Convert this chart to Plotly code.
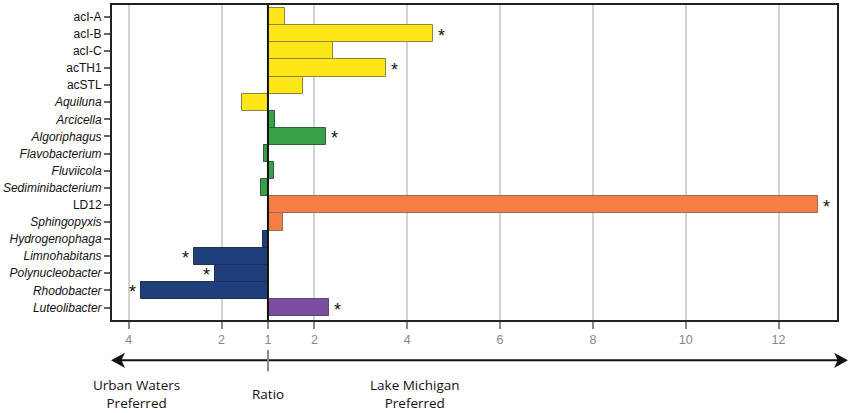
import plotly.graph_objects as go

# taxa, top to bottom
taxa = ["acI-A", "acI-B", "acI-C", "acTH1", "acSTL", "Aquiluna", "Arcicella",
        "Algoriphagus", "Flavobacterium", "Fluviicola", "Sediminibacterium",
        "LD12", "Sphingopyxis", "Hydrogenophaga", "Limnohabitans",
        "Polynucleobacter", "Rhodobacter", "Luteolibacter"]
italic = [False, False, False, False, False, True, True, True, True, True, True,
          False, True, True, True, True, True, True]
groups = ["acI", "acI", "acI", "acI", "acI", "acI", "bact", "bact", "bact",
          "bact", "bact", "alpha", "alpha", "beta", "beta", "beta", "beta", "verr"]
# signed (ratio - 1): positive = Lake Michigan, negative = urban waters
ratio_shift = [0.37, 3.56, 1.40, 2.54, 0.75, -0.57, 0.15, 1.26, -0.09, 0.14,
               -0.14, 11.84, 0.33, -0.11, -1.59, -1.15, -2.74, 1.31]
significant = [False, True, False, True, False, False, False, True, False, False,
               False, True, False, False, True, True, True, True]

tick_vals = [-3, -1, 0, 1, 3, 5, 7, 9, 11]
tick_text = ["4", "2", "1", "2", "4", "6", "8", "10", "12"]

group_colors = {"acI": "#FFE619", "bact": "#37A048", "alpha": "#F47E45",
                "beta": "#1F3F7C", "verr": "#7B4CA0"}
group_lines = {"acI": "#8C8440", "bact": "#2E5E33", "alpha": "#9A6A55",
               "beta": "#22304F", "verr": "#5A4A6A"}

labels = ["<i>%s</i>" % t if it else t for t, it in zip(taxa, italic)]

fig = go.Figure()
fig.add_trace(go.Bar(
    y=taxa, x=ratio_shift, orientation="h",
    marker=dict(color=[group_colors[g] for g in groups],
                line=dict(color=[group_lines[g] for g in groups], width=1)),
    showlegend=False, hoverinfo="skip"))

# stars for significant taxa
for t, v, s in zip(taxa, ratio_shift, significant):
    if not s:
        continue
    fig.add_annotation(x=v, y=t, text="*", showarrow=False,
                       xanchor="left" if v > 0 else "right",
                       xshift=3 if v > 0 else -3, yshift=-2,
                       font=dict(size=18, color="#111", family="Liberation Sans"))

# centre line at ratio 1
fig.add_shape(type="line", x0=0, x1=0, y0=0, y1=1, yref="paper",
              line=dict(color="#111", width=2))

# double arrow under the axis
ya = -0.128
fig.add_shape(type="line", xref="paper", yref="paper", x0=0.005, x1=1.005,
              y0=ya, y1=ya, line=dict(color="#111", width=2))
fig.add_shape(type="path", xref="paper", yref="paper",
              path="M -0.0014 %f L 0.018 %f L 0.013 %f L 0.018 %f Z"
                   % (ya, ya + 0.024, ya, ya - 0.024),
              fillcolor="#111", line=dict(width=0))
fig.add_shape(type="path", xref="paper", yref="paper",
              path="M 1.015 %f L 0.996 %f L 1.001 %f L 0.996 %f Z"
                   % (ya, ya + 0.024, ya, ya - 0.024),
              fillcolor="#111", line=dict(width=0))
fig.add_shape(type="line", xref="x", yref="paper", x0=0, x1=0,
              y0=-0.095, y1=-0.163, line=dict(color="#888", width=2))

txt_font = dict(size=13.5, color="#111", family="Open Sans")
fig.add_annotation(x=-2.83, y=-0.172, xref="x", yref="paper", showarrow=False,
                   text="Urban Waters<br>Preferred", font=txt_font, yanchor="top")
fig.add_annotation(x=0, y=-0.2, xref="x", yref="paper", showarrow=False,
                   text="Ratio", font=txt_font, yanchor="top")
fig.add_annotation(x=3.16, y=-0.172, xref="x", yref="paper", showarrow=False,
                   text="Lake Michigan<br>Preferred", font=txt_font, yanchor="top")

fig.update_xaxes(range=[-3.36, 12.26], tickvals=tick_vals, ticktext=tick_text,
                 showgrid=True, gridcolor="#d2d2d2", gridwidth=1.5,
                 zeroline=False, showline=True, linecolor="#222", linewidth=2,
                 mirror=True, ticks="outside", ticklen=7, tickwidth=2,
                 tickcolor="#888",
                 tickfont=dict(size=12.5, color="#888", family="Liberation Sans"))
fig.update_yaxes(categoryorder="array", categoryarray=taxa,
                 tickvals=taxa, ticktext=labels, range=[17.73, -0.68],
                 showline=True, linecolor="#222", linewidth=2, mirror=True,
                 ticks="outside", ticklen=6, tickwidth=2, tickcolor="#666",
                 showgrid=False,
                 tickfont=dict(size=12, color="#111", family="Liberation Sans"))

fig.update_layout(width=850, height=413, bargap=0,
                  margin=dict(l=111, r=13, t=3, b=93),
                  plot_bgcolor="white", paper_bgcolor="white")
fig.write_html("out.html", config={"displayModeBar": False},
               post_script="document.body.style.margin='0';"
                           "document.body.style.overflow='hidden';")
